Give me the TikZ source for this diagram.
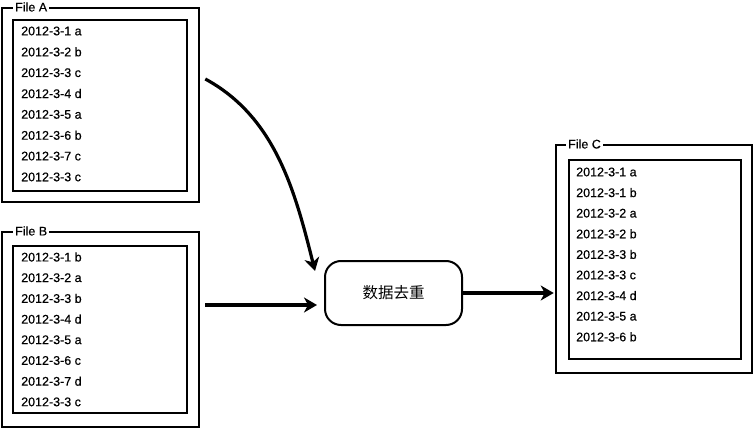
\documentclass[tikz,border=0pt]{standalone}
\usepackage{fontspec}
\setmainfont{Liberation Sans}
\newfontfamily\entryfont{Liberation Sans}[FakeBold=0.5]
\newfontfamily\cjk{Noto Sans CJK SC}
\usetikzlibrary{arrows.meta}
\tikzset{
  outerbox/.style={draw, line width=2.6pt, inner sep=0pt},
  innerbox/.style={draw, line width=2.4pt, inner sep=0pt},
  boxlabel/.style={fill=white, inner sep=2pt, font=\entryfont\fontsize{12.5}{14}\selectfont},
  entry/.style={anchor=west, inner sep=0pt, font=\entryfont\fontsize{12.5}{14}\selectfont},
  process/.style={draw, line width=2pt, rounded corners=16pt, inner sep=0pt,
    minimum width=137pt, minimum height=64pt, font=\cjk\fontsize{15.5}{17}\selectfont},
  flow/.style={line width=3.2pt, -{Stealth[length=13pt,width=15pt,inset=4pt]}}
}
\begin{document}
\begin{tikzpicture}[x=1pt,y=-1pt]
\useasboundingbox (0,0) rectangle (754,430);
% File A
\node[outerbox, minimum width=197pt, minimum height=194pt] (Ao) at (100.5,105) {};
\node[innerbox, minimum width=174pt, minimum height=171pt] (Ai) at (100,105.5) {};
\node[boxlabel, anchor=west] (Al) at (13,7) {File A};
\foreach \t [count=\i] in {2012-3-1 a,2012-3-2 b,2012-3-3 c,2012-3-4 d,2012-3-5 a,2012-3-6 b,2012-3-7 c,2012-3-3 c}
  \node[entry] (A\i) at (21,{31+(\i-1)*20.85}) {\t};
% File B
\node[outerbox, minimum width=197pt, minimum height=195pt] (Bo) at (100.5,329.5) {};
\node[innerbox, minimum width=174pt, minimum height=167pt] (Bi) at (100,329.5) {};
\node[boxlabel, anchor=west] (Bl) at (13,231) {File B};
\foreach \t [count=\i] in {2012-3-1 b,2012-3-2 a,2012-3-3 b,2012-3-4 d,2012-3-5 a,2012-3-6 c,2012-3-7 d,2012-3-3 c}
  \node[entry] (B\i) at (21,{257+(\i-1)*20.7}) {\t};
% File C
\node[outerbox, minimum width=196pt, minimum height=228pt] (Co) at (654,259) {};
\node[innerbox, minimum width=172pt, minimum height=199pt] (Ci) at (655,259.5) {};
\node[boxlabel, anchor=west] (Cl) at (566,144) {File C};
\foreach \t [count=\i] in {2012-3-1 a,2012-3-1 b,2012-3-2 a,2012-3-2 b,2012-3-3 b,2012-3-3 c,2012-3-4 d,2012-3-5 a,2012-3-6 b}
  \node[entry] (C\i) at (576,{172+(\i-1)*20.6}) {\t};
% process
\node[process] (dedup) at (393.5,293) {数据去重};
% connectors
\coordinate (a1) at ([shift={(5pt,26pt)}]Ao.east);
\coordinate (a2) at ([shift={(-9pt,-11pt)}]dedup.north west);
\draw[flow] (a1) .. controls +(70,38) and +(-20,-80) .. (a2);
\coordinate (b1) at ([shift={(5pt,24.5pt)}]Bo.east);
\draw[flow] (b1) -- ([xshift=-7pt]dedup.west |- b1);
\draw[flow] (dedup.east) -- ([xshift=-1pt]dedup.east -| Co.west);
\end{tikzpicture}
\end{document}
